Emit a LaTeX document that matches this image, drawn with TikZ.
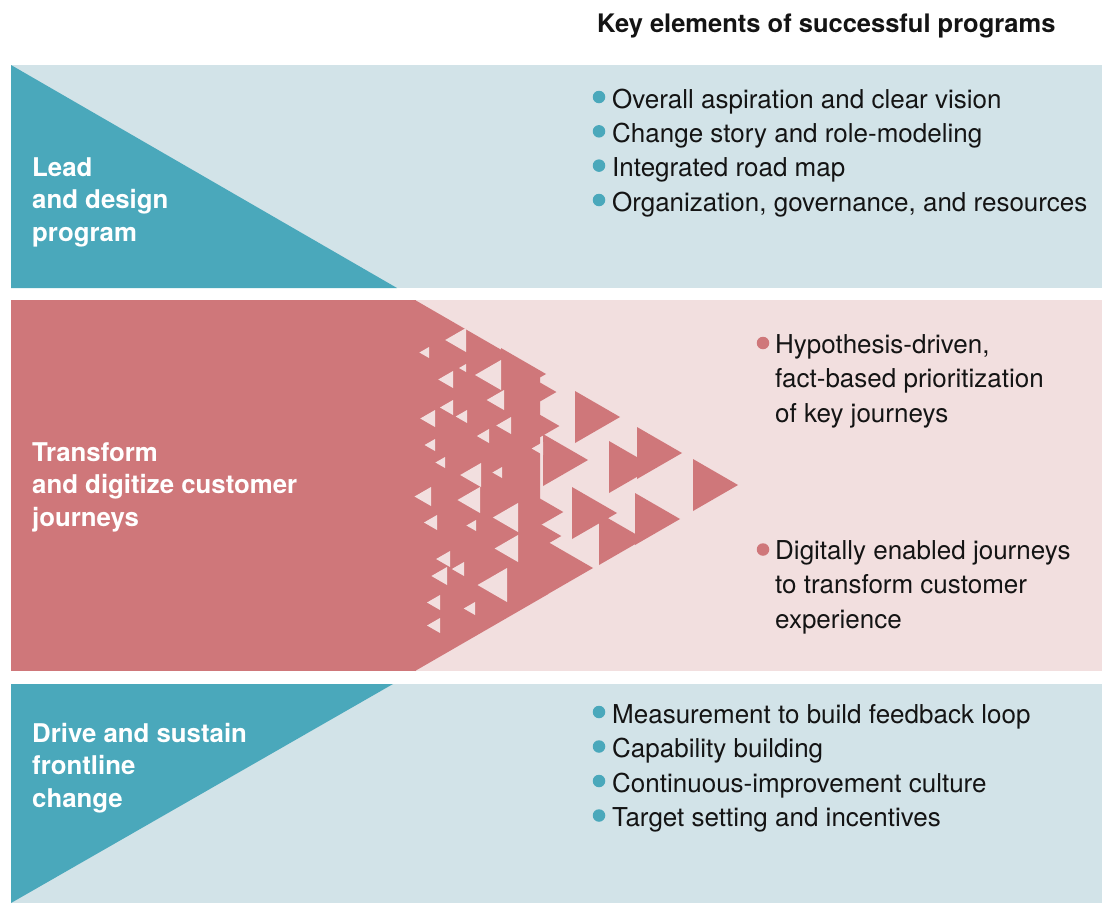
\documentclass[tikz,border=0pt]{standalone}
\usepackage{fontspec}
\setmainfont{TeX Gyre Heros}
\definecolor{tealdark}{HTML}{4AA8BB}
\definecolor{teallight}{HTML}{D2E3E8}
\definecolor{pinkdark}{HTML}{CF777A}
\definecolor{pinklight}{HTML}{F2DFDF}
\definecolor{ink}{HTML}{141414}
\tikzset{
  sidelabel/.style={anchor=base west, inner sep=0pt, align=left, text=white,
    font=\fontsize{25.8}{32.2}\selectfont\bfseries},
  item/.style={anchor=base west, inner sep=0pt, align=left, text=ink,
    font=\fontsize{26}{34.2}\selectfont},
  tdot/.style={circle, fill=tealdark, inner sep=0pt, minimum size=12.5pt},
  pdot/.style={circle, fill=pinkdark, inner sep=0pt, minimum size=12.5pt},
  heading/.style={anchor=base west, inner sep=0pt, text=ink,
    font=\fontsize{25.5}{30}\selectfont\bfseries},
}
\newcommand{\rtri}[3]{\fill[pinkdark] (#1,#2) -- (#1,{#2+#3}) -- ({#1+0.866*#3},{#2+#3/2}) -- cycle;}
\newcommand{\gapt}[3]{\fill[pinklight] (#1,#2) -- (#1,#3) -- ({#1-0.866*(#3-#2)},{(#2+#3)/2}) -- cycle;}
\begin{document}
\begin{tikzpicture}[x=1pt,y=-1pt]
\useasboundingbox (0,0) rectangle (1109,903);
\fill[white] (0,0) rectangle (1109,903);
% bands
\fill[teallight] (11,65) rectangle (1102,288);
\fill[pinklight] (11,300) rectangle (1102,671);
\fill[teallight] (11,684) rectangle (1102,903);
% top and bottom wedges
\fill[tealdark] (11,65) -- (11,288) -- (397,288) -- cycle;
\fill[tealdark] (11,684) -- (393,684) -- (11,903) -- cycle;
% middle: block and triangle mosaic
\fill[pinkdark] (11,300) rectangle (415.5,671);
\fill[pinkdark] (415,300) -- (540,372.2) -- (540,540) -- (548,540) -- (548,594.2) -- (415,671) -- cycle;
\rtri{501}{348}{52}
\rtri{501}{360}{64}
\rtri{504}{394}{64}
\rtri{543}{434}{52}
\rtri{575}{391}{52}
\rtri{609}{441}{52}
\rtri{637}{427}{52}
\rtri{693}{459}{52}
\rtri{635}{493}{52}
\rtri{599}{513}{52}
\rtri{572}{487}{52}
\rtri{520}{487}{50}
\rtri{518}{511}{50}
\rtri{548}{542}{52}
% gaps between the small triangles
\gapt{466}{328}{352}
\gapt{429}{347}{358}
\gapt{466}{364}{372}
\gapt{501}{360}{390}
\gapt{453}{371}{388}
\gapt{504}{390}{410}
\gapt{453}{400}{415}
\gapt{467}{410}{423}
\gapt{435}{410}{427}
\gapt{511}{417}{434}
\gapt{489}{429}{443}
\gapt{435}{439}{451}
\gapt{543}{442}{455}
\gapt{445}{457}{468}
\gapt{481}{463}{487}
\gapt{502}{467}{478}
\gapt{431}{487}{506}
\gapt{480}{487}{513}
\gapt{518}{503}{532}
\gapt{437}{515}{530}
\gapt{476}{520}{531}
\gapt{518}{535}{562}
\gapt{450}{551}{567}
\gapt{464}{562}{576}
\gapt{447}{567}{585}
\gapt{507}{568}{602}
\gapt{440}{595}{610}
\gapt{475}{602}{615}
\gapt{440}{618}{633}
% heading
\node[heading] (title) at (597,32) {Key elements of successful programs};
% side labels (anchored at the baseline of the last line)
\node[sidelabel] (lead) at (32,241) {Lead\\and design\\program};
\node[sidelabel] (transform) at (32,526) {Transform\\and digitize customer\\journeys};
\node[sidelabel] (drive) at (32,807) {Drive and sustain\\frontline\\change};
% top items
\node[tdot] (d1) at (599,97) {};
\node[item] (i1) at (612,108) {Overall aspiration and clear vision};
\node[tdot] (d2) at (599,131.3) {};
\node[item] (i2) at (612,142.3) {Change story and role-modeling};
\node[tdot] (d3) at (599,165.6) {};
\node[item] (i3) at (612,176.6) {Integrated road map};
\node[tdot] (d4) at (599,200) {};
\node[item] (i4) at (612,211) {Organization, governance, and resources};
% middle items
\node[pdot] (d5) at (763,343) {};
\node[item] (i5) at (775,422) {Hypothesis-driven,\\fact-based prioritization\\of key journeys};
\node[pdot] (d6) at (763,549.5) {};
\node[item] (i6) at (775,628) {Digitally enabled journeys\\to transform customer\\experience};
% bottom items
\node[tdot] (d7) at (599,712) {};
\node[item] (i7) at (612,723) {Measurement to build feedback loop};
\node[tdot] (d8) at (599,746.5) {};
\node[item] (i8) at (612,757.5) {Capability building};
\node[tdot] (d9) at (599,781) {};
\node[item] (i9) at (612,792) {Continuous-improvement culture};
\node[tdot] (d10) at (599,815.5) {};
\node[item] (i10) at (612,826.5) {Target setting and incentives};
\end{tikzpicture}
\end{document}
